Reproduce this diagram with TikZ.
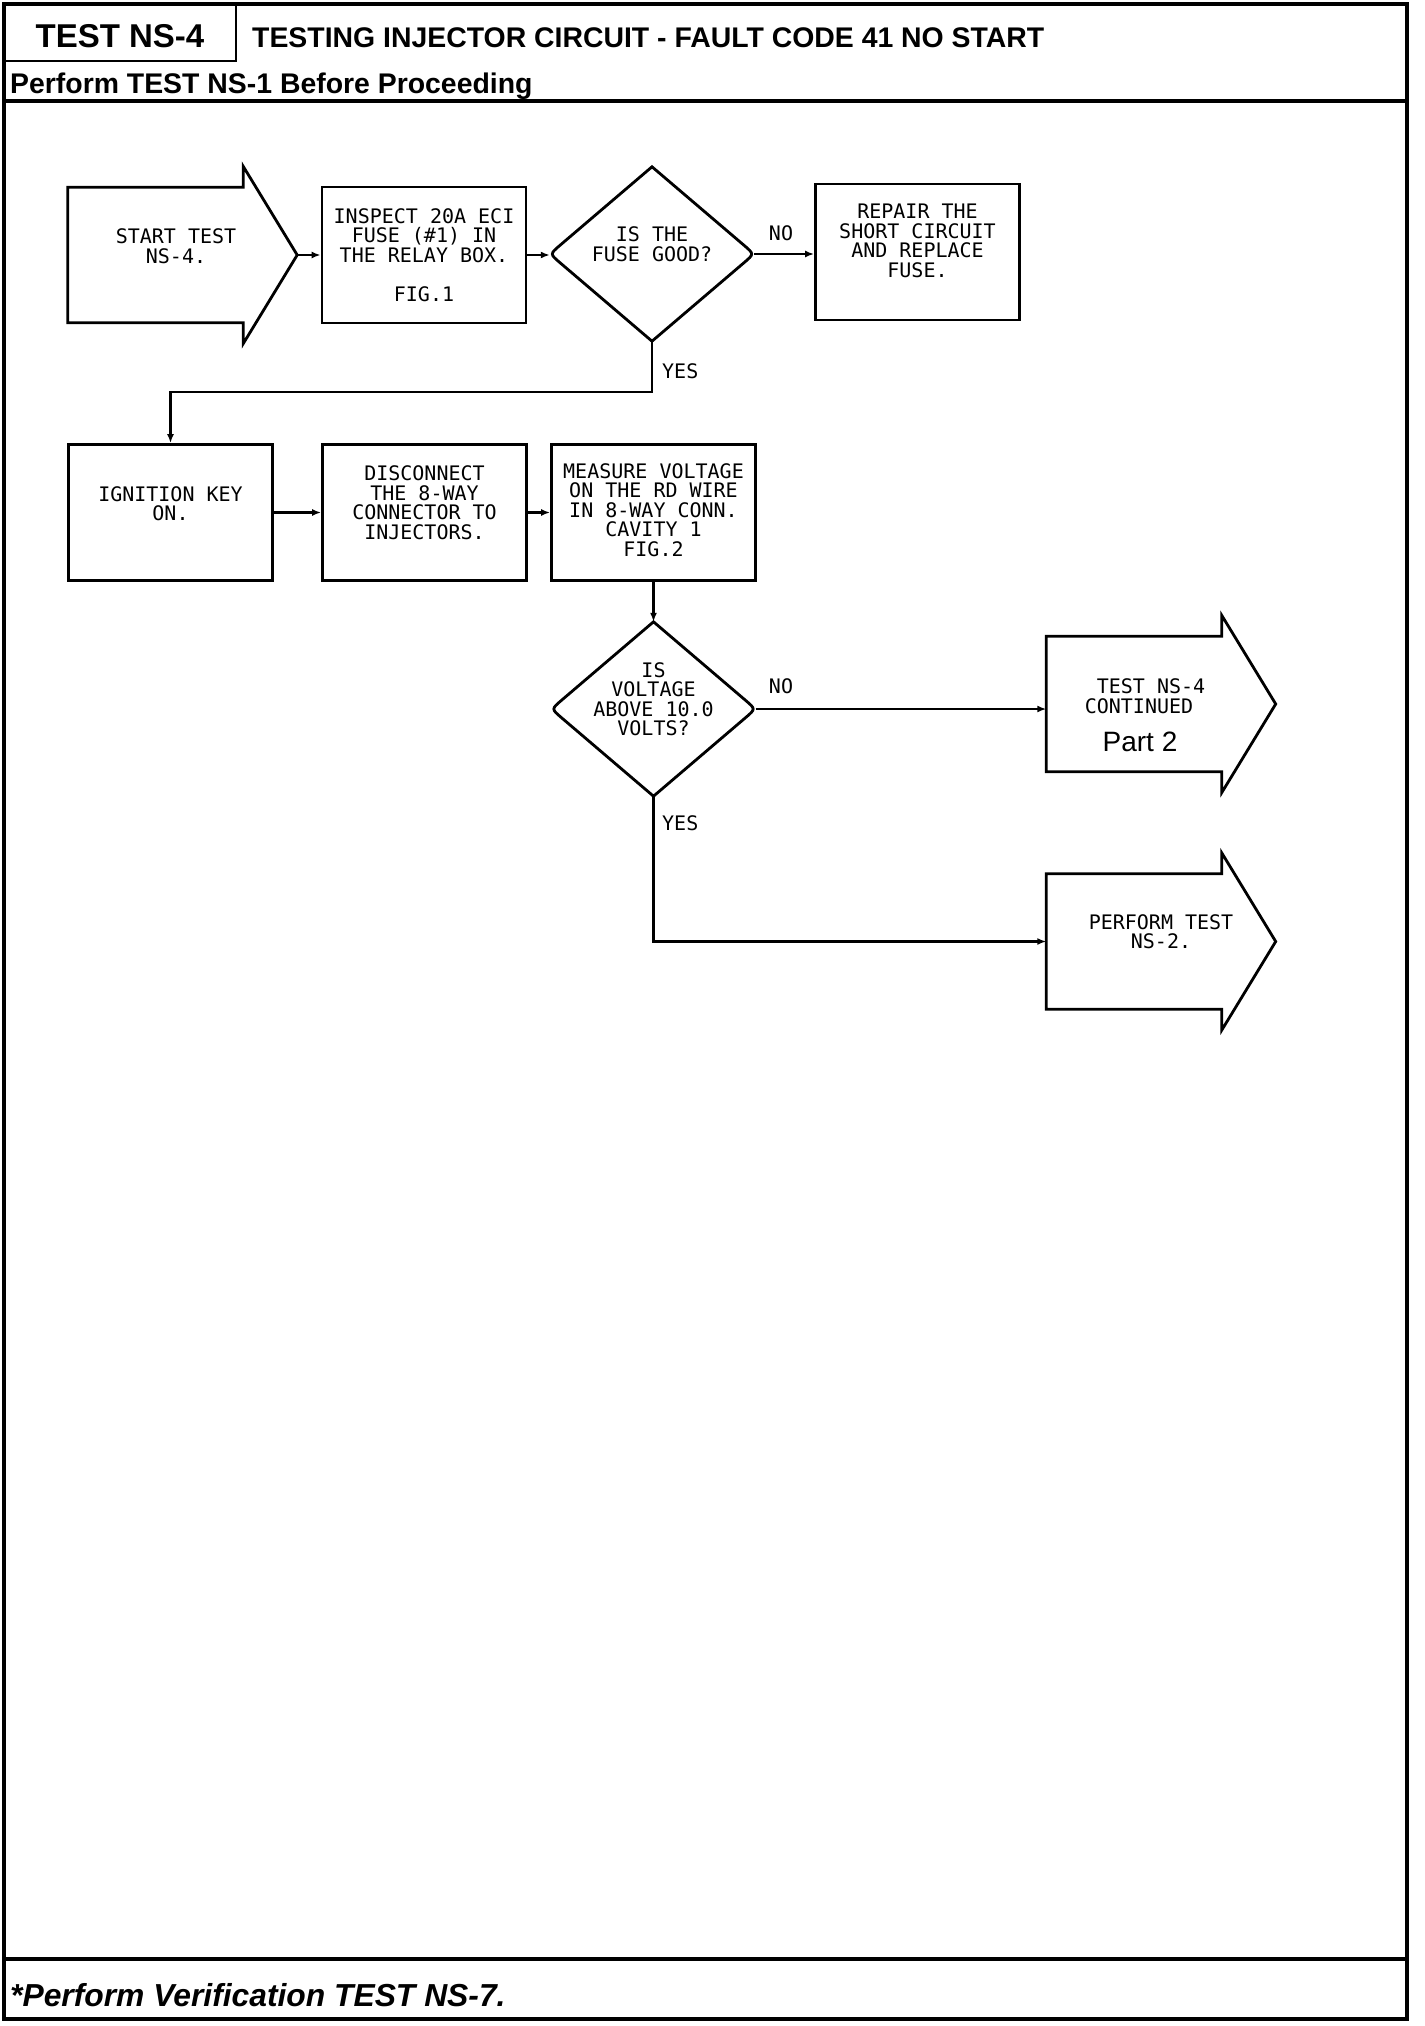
\documentclass[tikz,border=0pt]{standalone}
\usepackage{fontspec}
\setsansfont{Liberation Sans}
\setmonofont{DejaVu Sans Mono}
\usetikzlibrary{arrows.meta,calc}
% invisible struts that move a block of node text up, down or left
\newcommand{\padbelow}[1]{\rule[-#1]{0pt}{#1}}
\newcommand{\padabove}[1]{\rule{0pt}{#1}}
\newcommand{\padright}[1]{\makebox[#1]{}}

\begin{document}
\begin{tikzpicture}[
    x=1pt, y=-1pt,
    every node/.style={font=\ttfamily\fontsize{20}{19.5}\selectfont, inner sep=0pt},
    frame/.style={line width=3.5pt},
    procbox/.style={draw, line width=2.8pt, minimum width=204pt, minimum height=136pt, align=center},
    decision/.style={minimum width=204pt, minimum height=174pt, align=center},
    bigarrow/.style={minimum width=229pt, minimum height=177pt, align=center},
    outline/.style={line width=2.8pt},
    link/.style={line width=2.4pt, -{Latex[length=9pt,width=7pt]}},
    hdr/.style={font=\sffamily\bfseries\fontsize{28.4}{30}\selectfont}
]
\useasboundingbox (0,0) rectangle (1424,2026);

% page frame
\draw[frame] (4,4) rectangle (1407,2019);
\draw[line width=2.5pt] (236,4) -- (236,61) -- (4,61);
\draw[frame] (4,101) -- (1407,101);
\draw[frame] (4,1959) -- (1407,1959);

\node[hdr, font=\sffamily\bfseries\fontsize{33}{36}\selectfont] (testno) at (120,36.5) {TEST NS-4};
\node[hdr, anchor=west] (title) at (252,37.5) {TESTING INJECTOR CIRCUIT - FAULT CODE 41 NO START};
\node[hdr, anchor=west] (pre) at (10,86.5) {Perform TEST NS-1 Before Proceeding};
\node[hdr, anchor=west, font=\sffamily\bfseries\itshape\fontsize{31.8}{34}\selectfont] (verify) at (10,1995) {*Perform Verification TEST NS-7.};

% first row
\node[bigarrow] (start) at (182.5,255) {START TEST\padright{13pt}\\NS-4.\padright{13pt}\padbelow{18pt}};
\node[procbox] (inspect) at (424,255) {INSPECT 20A ECI\\FUSE (\#1) IN\\THE RELAY BOX.\\[19.5pt]FIG.1};
\node[decision] (fuse) at (652,254) {IS THE\\FUSE GOOD?\padbelow{20pt}};
\node[procbox] (repair) at (917.5,252) {REPAIR THE\\SHORT CIRCUIT\\AND REPLACE\\FUSE.\padbelow{23pt}};

% second row
\node[procbox] (ign) at (170.5,512.5) {IGNITION KEY\\ON.\padbelow{18pt}};
\node[procbox] (disc) at (424.5,512.5) {DISCONNECT\\THE 8-WAY\\CONNECTOR TO\\INJECTORS.\padbelow{20pt}};
\node[procbox] (meas) at (653.5,512.5) {MEASURE VOLTAGE\\ON THE RD WIRE\\IN 8-WAY CONN.\\CAVITY 1\\FIG.2\padbelow{5pt}};

% voltage check and exits
\node[decision] (volt) at (653.5,709) {IS\\VOLTAGE\\ABOVE 10.0\\VOLTS?\padbelow{20pt}};
\node[bigarrow] (cont) at (1161,704) {\padabove{37pt}TEST NS-4\padright{20pt}\\CONTINUED\padright{44pt}\\[17pt]{\sffamily\fontsize{28}{28}\selectfont Part 2}\padright{42pt}};
\node[bigarrow] (perf) at (1161,941.5) {PERFORM TEST\\NS-2.\padbelow{20pt}};

% arrow outlines
\draw[outline] ([shift={(0,21)}]start.north west) -- ([shift={(-54,21)}]start.north east) -- ([shift={(-54,0)}]start.north east) -- (start.east) -- ([shift={(-54,0)}]start.south east) -- ([shift={(-54,-21)}]start.south east) -- ([shift={(0,-21)}]start.south west) -- cycle;
\draw[outline] ([shift={(0,21)}]cont.north west) -- ([shift={(-54,21)}]cont.north east) -- ([shift={(-54,0)}]cont.north east) -- (cont.east) -- ([shift={(-54,0)}]cont.south east) -- ([shift={(-54,-21)}]cont.south east) -- ([shift={(0,-21)}]cont.south west) -- cycle;
\draw[outline] ([shift={(0,21)}]perf.north west) -- ([shift={(-54,21)}]perf.north east) -- ([shift={(-54,0)}]perf.north east) -- (perf.east) -- ([shift={(-54,0)}]perf.south east) -- ([shift={(-54,-21)}]perf.south east) -- ([shift={(0,-21)}]perf.south west) -- cycle;

% diamond outlines
\draw[outline] (fuse.north) -- ($(fuse.east)!0.1!(fuse.north)$) .. controls (fuse.east) .. ($(fuse.east)!0.1!(fuse.south)$) -- (fuse.south) -- ($(fuse.west)!0.1!(fuse.south)$) .. controls (fuse.west) .. ($(fuse.west)!0.1!(fuse.north)$) -- cycle;
\draw[outline] (volt.north) -- ($(volt.east)!0.1!(volt.north)$) .. controls (volt.east) .. ($(volt.east)!0.1!(volt.south)$) -- (volt.south) -- ($(volt.west)!0.1!(volt.south)$) .. controls (volt.west) .. ($(volt.west)!0.1!(volt.north)$) -- cycle;

% connectors
\draw[link] (start.east) -- (inspect.west);
\draw[link] (inspect.east) -- (inspect.east -| fuse.west);
\draw[link] (fuse.east) -- (fuse.east -| repair.west);
\draw[link] (fuse.south) -- ++(0,51) -| (ign.north);
\draw[link] (ign.east) -- (disc.west);
\draw[link] (disc.east) -- (meas.west);
\draw[link] (meas.south) -- (volt.north);
\draw[link] (volt.east) -- (volt.east -| cont.west);
\draw[link] (volt.south) |- (perf.west);

\node (no1) at (781,233) {NO};
\node[anchor=west] (yes1) at (662,371) {YES};
\node (no2) at (781,686) {NO};
\node[anchor=west] (yes2) at (662,823) {YES};
\end{tikzpicture}
\end{document}
